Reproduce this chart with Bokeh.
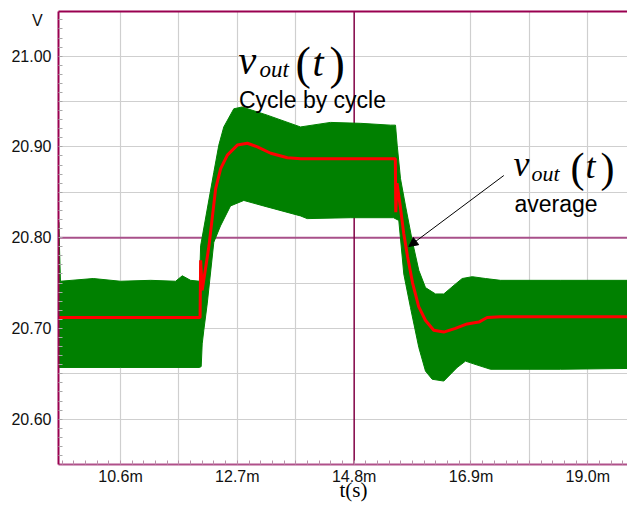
from bokeh.plotting import figure
from bokeh.models import (Range1d, FixedTicker, PrintfTickFormatter, LinearAxis, Span,
                          Label, Arrow, NormalHead)
from bokeh.embed import file_html
from bokeh.resources import INLINE
import numpy as np

# ---------------- data (time in ms, voltage in V) ----------------
avg_t = [9.49, 12.03, 12.04, 12.068, 12.19, 12.31, 12.40, 12.52, 12.70, 12.88, 13.06,
         13.30, 13.60, 13.84, 15.54, 15.548, 15.57, 15.63, 15.69, 15.76, 15.85, 15.96,
         16.08, 16.23, 16.41, 16.62, 16.83, 17.04, 17.19, 17.43, 19.86]
avg_v = [20.712, 20.712, 20.775, 20.742, 20.791, 20.854, 20.876, 20.891, 20.902, 20.904,
         20.900, 20.893, 20.888, 20.887, 20.887, 20.828, 20.860, 20.834, 20.805, 20.779,
         20.750, 20.724, 20.709, 20.698, 20.696, 20.700, 20.705, 20.707, 20.712, 20.713,
         20.713]

upper_t = [9.49, 9.52, 10.11, 10.60, 11.14, 11.59, 11.71, 11.86, 12.02, 12.04, 12.277,
           12.367, 12.456, 12.636, 12.787, 13.237, 13.835, 14.374, 14.914, 15.453, 15.543,
           15.573, 15.633, 15.723, 15.843, 15.962, 16.082, 16.262, 16.411, 16.622, 16.742,
           16.922, 17.161, 17.430, 18.51, 19.86]
upper_v = [20.817, 20.752, 20.755, 20.752, 20.753, 20.752, 20.758, 20.753, 20.752, 20.791,
           20.872, 20.902, 20.922, 20.942, 20.944, 20.935, 20.922, 20.927, 20.926, 20.924,
           20.924, 20.902, 20.865, 20.835, 20.797, 20.764, 20.745, 20.738, 20.738, 20.749,
           20.755, 20.757, 20.755, 20.753, 20.753, 20.753]

lower_t = [9.49, 10.60, 12.02, 12.05, 12.068, 12.097, 12.158, 12.277, 12.397, 12.577,
           12.816, 13.17, 13.835, 13.955, 14.73, 15.507, 15.602, 15.692, 15.812, 15.962,
           16.082, 16.202, 16.411, 16.652, 16.801, 16.945, 17.25, 18.51, 19.86]
lower_v = [20.657, 20.657, 20.657, 20.658, 20.683, 20.698, 20.727, 20.795, 20.813, 20.835,
           20.841, 20.835, 20.824, 20.821, 20.822, 20.822, 20.819, 20.760, 20.723, 20.679,
           20.653, 20.644, 20.642, 20.657, 20.664, 20.661, 20.655, 20.655, 20.656]

x_major = [10.6, 12.7, 14.8, 16.9, 19.0]
y_major = [20.60, 20.70, 20.80, 20.90, 21.00]
y_unit_pos = 21.039             # where the unit "V" sits on the value axis
y_unit = "V"
x_title = "t(s)"
x_grid = [10.6, 11.65, 12.7, 13.75, 16.9, 17.95, 19.0]
y_grid = [20.60, 20.65, 20.70, 20.75, 20.85, 20.90, 20.95, 21.00]
cursor_t = 14.8
cursor_v = 20.80

# ---------------- figure ----------------
W, H = 627, 504
FL, FT, FB = 58, 11, 464          # frame left / top / bottom (px)
PXMS = 55.63                      # px per ms
PXV = 907.6                       # px per V
X0 = 9.485
X1 = X0 + (W - FL) / PXMS
Y1 = 21.0492
Y0 = Y1 - (FB - FT) / PXV

p = figure(width=W, height=H, x_range=Range1d(X0, X1), y_range=Range1d(Y0, Y1),
           output_backend="svg", toolbar_location=None,
           min_border_left=FL, min_border_right=0, min_border_top=FT,
           min_border_bottom=H - FB)
p.outline_line_color = None
p.background_fill_color = "white"
p.border_fill_color = "white"

FONT = "Liberation Sans"
SERIF = "Liberation Serif"
NB = "\u00a0"

# grids
p.xgrid.ticker = FixedTicker(ticks=x_grid)
p.ygrid.ticker = FixedTicker(ticks=y_grid)
for g in (p.xgrid, p.ygrid):
    g.grid_line_color = "#cfcfcf"
    g.grid_line_width = 1.2

# axes
ya = p.yaxis[0]
ya.ticker = FixedTicker(ticks=y_major + [y_unit_pos],
                        minor_ticks=list(np.round(np.arange(20.55, 21.05, 0.01), 3)))
ya.formatter = PrintfTickFormatter(format="%.2f")
ya.major_label_overrides = {y_unit_pos: y_unit + NB * 2}
ya.axis_line_color = "#990050"
ya.axis_line_width = 2
ya.major_tick_in = 0
ya.major_tick_out = 0
ya.minor_tick_in = 4
ya.minor_tick_out = 0
ya.minor_tick_line_color = "#a8a8a8"
ya.major_label_text_font = FONT
ya.major_label_text_font_size = "16px"
ya.major_label_text_color = "#111111"
ya.major_label_standoff = 7

xa = p.xaxis[0]
xa.ticker = FixedTicker(ticks=x_major, minor_ticks=list(np.round(np.arange(9.55, 19.9, 0.21), 3)))
xa.formatter = PrintfTickFormatter(format="%.1fm")
xa.axis_line_color = "#b0508a"
xa.axis_line_width = 2
xa.major_tick_in = 0
xa.major_tick_out = 0
xa.minor_tick_in = 4
xa.minor_tick_out = 0
xa.minor_tick_line_color = "#b890a8"
xa.major_label_text_font = FONT
xa.major_label_text_font_size = "16px"
xa.major_label_text_color = "#111111"
xa.major_label_standoff = 3
xa.axis_label = NB * 4 + x_title
xa.axis_label_text_font = SERIF
xa.axis_label_text_font_style = "normal"
xa.axis_label_text_font_size = "21px"
xa.axis_label_text_color = "black"
xa.axis_label_standoff = -10

top = LinearAxis(ticker=FixedTicker(ticks=[]), major_label_text_font_size="0px",
                 major_tick_out=0, major_tick_in=0, minor_tick_out=0, minor_tick_in=0,
                 major_label_standoff=0, axis_line_color="#990050", axis_line_width=2)
p.add_layout(top, "above")

# cursors (behind the data)
p.add_layout(Span(location=cursor_v, dimension="width", line_color="#a8508a",
                  line_width=2, level="underlay"))
p.add_layout(Span(location=cursor_t, dimension="height", line_color="#800045",
                  line_width=1.5, level="underlay"))

# data
band_x = upper_t + lower_t[::-1]
band_y = upper_v + lower_v[::-1]
p.patch(band_x, band_y, fill_color="#008000", line_color="#008000", line_width=1)
p.line(avg_t, avg_v, line_color="#ff0000", line_width=3)

# ---------------- annotations (placed by canvas pixel) ----------------
def px2x(px):
    return X0 + (px - FL) / PXMS

def px2y(py):
    return Y1 - (py - FT) / PXV

def lab(txt, px, py, size, font=FONT, style="normal", align="left"):
    p.add_layout(Label(x=px2x(px), y=px2y(py), text=txt, text_font=font,
                       text_font_size=f"{size}px", text_font_style=style,
                       text_align=align, text_baseline="alphabetic",
                       text_color="black"))

# v_out(t) cycle by cycle
lab("v", 238, 60, 40, SERIF, "italic")
lab("out", 259, 68.5, 23, SERIF, "italic")
lab("(", 295, 63, 46, SERIF)
lab("t", 312, 62, 40, SERIF, "italic")
lab(")", 329, 63, 46, SERIF)
lab("Cycle by cycle", 312, 99.5, 23, align="center")

# v_out(t) average
lab("v", 513, 163.5, 36, SERIF, "italic")
lab("out", 531, 172.5, 22, SERIF, "italic")
lab("(", 570, 167, 42, SERIF)
lab("t", 585, 165, 36, SERIF, "italic")
lab(")", 600, 167, 42, SERIF)
lab("average", 555.5, 203, 23, align="center")

p.add_layout(Arrow(end=NormalHead(size=9, fill_color="black", line_color="black"),
                   x_start=px2x(503.3), y_start=px2y(175),
                   x_end=px2x(408.3), y_end=px2y(246),
                   line_color="black", line_width=1))

open("out.html", "w").write(file_html(p, INLINE))
